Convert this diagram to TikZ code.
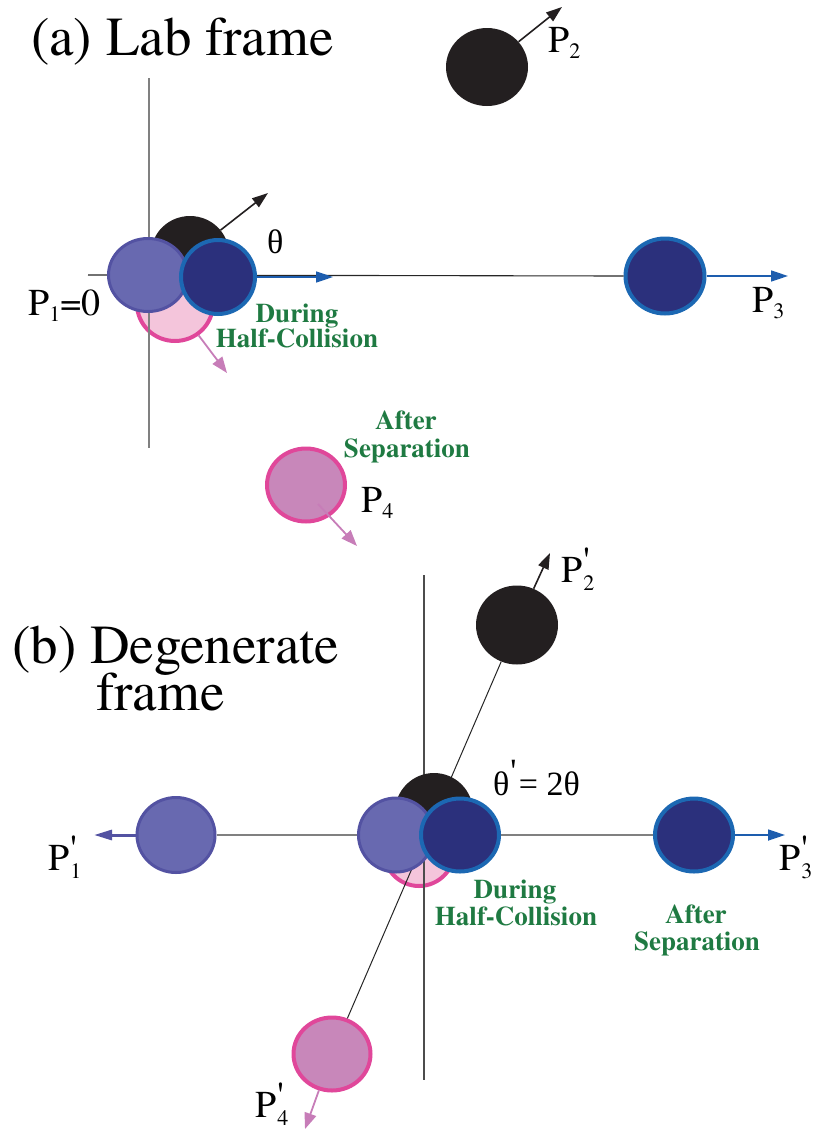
\documentclass[tikz,border=0pt]{standalone}
\usepackage{fontspec}
\setmainfont{texgyretermes}[Extension=.otf,UprightFont=*-regular,BoldFont=*-bold,ItalicFont=*-italic,BoldItalicFont=*-bolditalic]
\newfontfamily\greekfont{Liberation Serif}
\usetikzlibrary{arrows.meta,shapes.geometric}
\definecolor{ballblack}{HTML}{231F20}
\definecolor{pufill}{HTML}{6869B0}
\definecolor{puline}{HTML}{5352A2}
\definecolor{nvfill}{HTML}{2B307C}
\definecolor{nvline}{HTML}{1C68B3}
\definecolor{pklight}{HTML}{F4C5DB}
\definecolor{pkline}{HTML}{E0479A}
\definecolor{pkfill}{HTML}{C887BA}
\definecolor{pkarrow}{HTML}{C77DB8}
\definecolor{bluearrow}{HTML}{1D5DAE}
\definecolor{grn}{HTML}{1F7A42}
\newcommand\PSub[1]{P\raisebox{-6pt}{\fontsize{22}{22}\selectfont #1}}
\newcommand\PPrime[1]{P\kern1pt\rlap{\raisebox{9pt}{\textquotesingle}}\raisebox{-8pt}{\fontsize{22}{22}\selectfont #1}}
\begin{document}
\begin{tikzpicture}[x=1pt,y=-1pt,
  ball/.style 2 args={ellipse,inner sep=0pt,minimum width=#1,minimum height=#2},
  blackball/.style={fill=ballblack},
  puball/.style={fill=pufill,draw=puline,line width=3pt},
  nvball/.style={fill=nvfill,draw=nvline,line width=4pt},
  pklball/.style={fill=pklight,draw=pkline,line width=4pt},
  pkball/.style={fill=pkfill,draw=pkline,line width=4pt},
  blackarr/.style={draw=ballblack,line width=1.6pt,-{Triangle[length=16pt,width=11pt]}},
  bluearr/.style={draw=bluearrow,line width=1.7pt,-{Triangle[length=17pt,width=11pt]}},
  pinkarr/.style={draw=pkarrow,line width=1.8pt,-{Triangle[length=16pt,width=12pt]}},
  purplearr/.style={draw=puline,line width=3pt,-{Triangle[length=18pt,width=10pt]}},
  axisgray/.style={draw=black!50,line width=1.4pt},
  axisblack/.style={draw=black!85,line width=1.1pt},
  axisdark/.style={draw=black!70,line width=1.2pt},
  lbl/.style={inner sep=0pt,anchor=base west,font=\fontsize{38}{38}\selectfont},
  title/.style={inner sep=0pt,anchor=base west,font=\fontsize{55}{55}\selectfont},
  greek/.style={inner sep=0pt,anchor=base west,font=\fontsize{34}{34}\selectfont},
  note/.style={inner sep=0pt,anchor=base,text=grn,font=\fontsize{27}{27}\selectfont\bfseries}
]
\useasboundingbox (0,0) rectangle (812,1133);

% ---------------- (a) Lab frame ----------------
\node[title] (ta) at (31,55) {(a) Lab frame};

\coordinate (p2tip) at (562,7);
\node[ball={82pt}{78pt},blackball] (bk2) at (487,67) {};
\draw[blackarr] (bk2) -- (p2tip);
\node[lbl] (lp2) at (548,52) {\PSub{2}};

\node[ball={79pt}{75pt},nvball] (nv2) at (665,276) {};
\coordinate (p3tip) at (788,276);

\node[ball={76pt}{74pt},pklball] (pk1) at (175,304) {};

\coordinate (ayt) at (149,78);
\coordinate (ayb) at (149,448);
\coordinate (axl) at (88,275);
\draw[axisgray] (ayt) -- (ayb);
\draw[axisblack] (axl) -- (nv2.west);
\draw[bluearr] (nv2) -- (p3tip);
\node[lbl] (lp3) at (752,312) {\PSub{3}};

\coordinate (thtip) at (268,193);
\node[ball={78pt}{76pt},blackball] (bk1) at (190,254) {};
\draw[blackarr] (bk1) -- (thtip);
\node[ball={79pt}{73pt},puball] (pu1) at (148,275) {};
\node[ball={74pt}{74pt},nvball] (nv1) at (218,277) {};
\coordinate (bt1) at (333,277);
\draw[bluearr] (nv1) -- (bt1);
\coordinate (pt1) at (227,373);
\draw[pinkarr] (pk1) -- (pt1);

\node[greek] (th) at (267,253) {\greekfont θ};
\node[lbl] (lp1) at (28,315) {\PSub{1}=0};
\node[note] (dur1) at (297,322) {During};
\node[note] (hc1) at (297,347) {Half-Collision};

\node[ball={78pt}{73pt},pkball] (pk2) at (306,485) {};
\coordinate (p4start) at (318,504);
\coordinate (p4tip) at (357,546);
\draw[pinkarr] (p4start) -- (p4tip);
\node[lbl] (lp4) at (361,512) {\PSub{4}};
\node[note] (aft1) at (406,429) {After};
\node[note] (sep1) at (407,457) {Separation};

% ---------------- (b) Degenerate frame ----------------
\node[title] (tb1) at (12,663) {(b) Degenerate};
\node[title] (tb2) at (96,710) {frame};

\node[ball={82pt}{79pt},blackball] (bkb2) at (517,625) {};
\coordinate (p2ptip) at (550,553);
\draw[blackarr] (bkb2) -- (p2ptip);
\node[lbl] (lp2p) at (561,582) {\PPrime{2}};

\node[ball={77pt}{73pt},pkball] (pkb4) at (332,1054) {};
\coordinate (p4ptip) at (305,1129);
\draw[pinkarr] (pkb4) -- (p4ptip);
\node[lbl] (lp4p) at (255,1117) {\PPrime{4}};

\node[ball={78pt}{75pt},puball] (pub1) at (176,835) {};
\coordinate (p1ptip) at (94,835);
\draw[purplearr] (pub1) -- (p1ptip);
\node[lbl] (lp1p) at (48,870) {\PPrime{1}};

\node[ball={78pt}{73pt},nvball] (nvb3) at (694,835) {};
\coordinate (p3ptip) at (785,835);
\draw[bluearr] (nvb3) -- (p3ptip);
\node[lbl] (lp3p) at (779,870) {\PPrime{3}};

\node[ball={72pt}{74pt},pklball] (pkbc) at (419,849) {};

\coordinate (byt) at (424,575);
\coordinate (byb) at (424,1080);
\draw[axisdark] (byt) -- (byb);
\draw[axisgray] (pub1) -- (nvb3);
\draw[draw=black!85,line width=1pt] (pkb4) -- (bkb2);

\node[ball={78pt}{78pt},blackball] (bkbc) at (434,812) {};
\node[ball={75pt}{74pt},puball] (pubc) at (396,835) {};
\node[ball={78pt}{73pt},nvball] (nvbc) at (460,835) {};

\node[greek] (thp) at (493,795) {\greekfont θ\kern1pt\rlap{\raisebox{13pt}{\textquotesingle}} = 2θ};
\node[note] (dur2) at (515,898) {During};
\node[note] (hc2) at (516,925) {Half-Collision};
\node[note] (aft2) at (696,923) {After};
\node[note] (sep2) at (697,950) {Separation};
\end{tikzpicture}
\end{document}
